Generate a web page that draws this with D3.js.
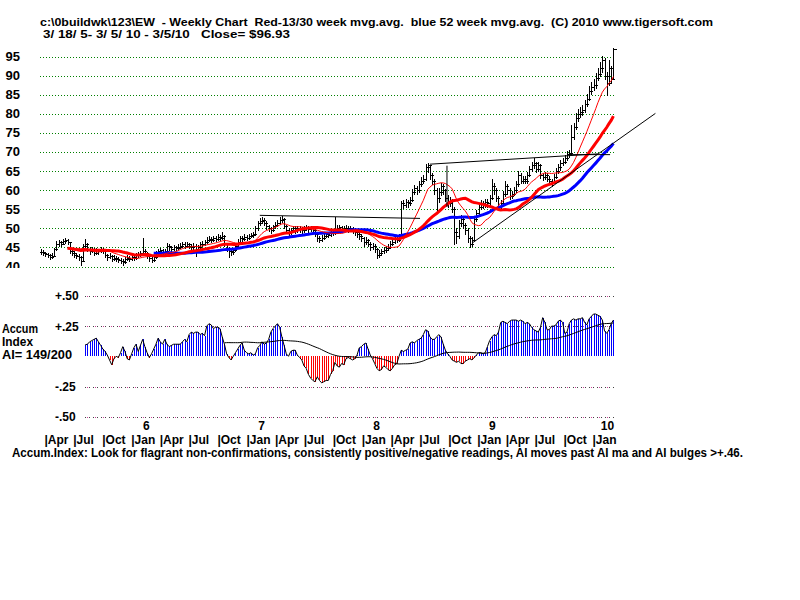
<!DOCTYPE html>
<html><head><meta charset="utf-8">
<script src="https://cdn.jsdelivr.net/npm/d3@7/dist/d3.min.js"></script>
<style>
body{margin:0;background:#fff}
text{font-family:"Liberation Sans",Arial,sans-serif;font-weight:bold;font-size:12px;white-space:pre;fill:#000}
</style>
</head><body>
<svg id="c" width="800" height="600"></svg>
<script>
// ---------------- DATA ----------------
const closes = [
43.8,43.5,43.2,43.0,42.5,42.8,44.5,46.0,46.3,46.0,
46.8,47.0,46.5,44.0,43.5,43.0,42.8,42.5,41.5,45.5,
46.0,44.5,44.0,44.5,43.5,44.2,44.0,44.5,44.0,43.0,
42.5,42.8,42.0,42.3,42.0,41.8,41.5,41.2,42.0,42.3,
42.0,42.5,42.2,43.0,43.2,43.5,44.0,43.5,42.8,42.2,
41.8,42.5,43.5,44.0,44.3,43.8,44.0,45.5,45.0,44.5,
45.0,44.8,45.2,45.5,45.8,45.5,45.8,45.5,45.2,45.5,
44.5,45.0,45.8,46.0,46.5,47.0,47.3,47.0,47.5,47.2,
47.8,47.5,48.0,46.0,44.5,44.0,43.8,44.2,45.5,46.5,
47.5,47.2,47.8,47.5,48.0,48.3,48.5,50.0,51.5,52.0,
52.3,51.5,50.5,50.0,49.5,50.5,51.0,51.5,52.3,52.5,
50.5,49.5,49.0,49.5,50.0,49.5,50.0,49.8,49.5,50.0,
50.3,49.8,50.0,49.5,48.5,47.5,47.0,47.5,48.0,48.5,
48.3,48.8,49.0,49.5,50.0,50.3,49.8,50.0,50.2,49.8,
50.0,49.5,49.0,48.5,48.0,47.5,46.5,47.0,46.0,45.0,
45.5,44.5,43.0,43.5,44.0,44.2,44.8,45.0,46.0,46.5,
47.5,47.0,48.0,56.5,56.0,56.8,56.5,57.5,59.5,60.5,
60.0,61.5,62.5,63.0,66.0,66.5,64.0,62.5,60.0,58.0,
59.5,61.0,60.0,58.0,56.5,57.5,55.0,49.0,48.0,51.5,
52.5,51.0,49.5,47.5,46.0,47.0,52.5,54.0,55.5,56.5,
56.0,57.0,56.5,58.0,61.0,60.0,58.0,55.5,56.5,59.0,
61.0,60.0,58.5,59.0,60.0,61.5,64.0,62.5,63.0,62.5,
64.0,65.5,66.5,67.0,65.5,66.5,64.0,63.5,64.0,63.0,
62.5,62.0,63.5,65.0,66.0,67.0,67.5,68.5,69.5,69.8,
74.0,76.5,79.0,80.0,80.5,81.0,82.5,84.0,86.0,87.0,
87.5,89.5,90.5,92.0,94.0,90.0,88.0,92.0,89.0,96.93];

const highs = [
44.6,44.2,43.9,43.6,43.3,43.5,44.9,46.6,46.9,46.8,
47.3,47.5,47.2,46.4,44.5,44.0,43.6,43.3,42.8,46.0,
47.2,46.2,45.0,45.2,44.8,44.8,44.7,45.1,44.9,44.2,
43.3,43.5,43.0,43.0,42.8,42.5,42.2,41.9,42.5,42.9,
42.8,43.0,42.9,43.5,43.9,44.1,47.5,44.6,43.8,43.1,
42.6,43.0,44.0,44.6,44.9,44.6,44.7,46.2,45.9,45.3,
45.6,45.5,45.8,46.1,46.4,46.3,46.4,46.2,46.0,46.1,
45.8,45.6,46.3,46.6,47.0,47.6,47.9,47.8,48.1,48.0,
48.4,48.3,49.0,48.2,46.2,45.0,44.6,44.9,46.0,47.1,
48.0,48.0,48.4,48.3,48.6,48.9,49.1,50.6,52.0,52.7,
53.0,52.6,51.8,51.0,50.4,51.0,51.7,52.2,52.9,53.3,
52.7,50.9,50.0,50.2,50.7,50.5,50.6,50.6,50.3,50.6,
51.0,50.7,50.6,50.4,49.8,48.8,48.0,48.2,48.6,49.1,
49.0,49.4,49.7,53.0,50.8,51.0,50.7,50.7,50.9,50.6,
50.6,50.4,50.0,49.4,49.0,48.4,47.8,47.7,47.3,46.4,
46.1,45.8,44.8,44.2,44.7,45.0,45.5,45.8,46.6,47.2,
48.1,48.0,48.6,57.2,57.3,57.6,57.5,58.2,60.3,61.3,
61.2,62.3,63.4,63.9,66.8,67.2,66.4,64.5,62.8,60.5,
60.5,61.8,61.6,60.4,58.6,58.3,57.8,55.5,50.2,52.3,
53.5,53.0,51.5,50.0,48.0,47.8,53.2,54.8,56.2,57.3,
57.2,57.8,57.6,58.8,63.0,61.8,60.5,58.4,57.3,59.8,
62.3,61.6,60.5,59.8,60.8,62.3,65.0,64.5,63.8,63.6,
64.8,66.3,67.3,68.3,67.4,67.3,66.8,64.6,64.8,64.5,
63.6,63.0,64.2,65.8,66.8,67.8,68.4,69.3,70.3,70.6,
77.0,77.6,80.2,81.2,81.7,82.4,83.6,85.2,87.2,88.4,
89.0,90.6,92.0,93.6,95.2,94.5,91.0,94.0,92.5,97.3];

const lows = [
43.2,43.0,42.7,42.4,42.0,42.1,42.7,44.3,45.5,45.4,
45.8,46.2,45.8,43.6,42.9,42.4,42.2,41.8,40.3,41.4,
45.0,44.0,43.4,43.7,43.0,43.2,43.4,43.7,43.5,42.5,
41.8,42.1,41.5,41.6,41.4,41.1,40.9,40.4,41.0,41.6,
41.4,41.7,41.6,42.0,42.6,42.8,43.2,42.9,42.2,41.5,
41.2,41.5,42.3,43.2,43.6,43.2,43.3,43.8,44.4,43.9,
44.2,44.2,44.5,44.8,45.0,44.9,45.0,44.8,44.6,44.7,
42.8,44.0,44.8,45.3,45.7,46.2,46.6,46.4,46.7,46.6,
47.0,46.9,47.2,45.5,44.0,42.5,43.1,43.4,44.0,45.3,
46.3,46.6,47.0,46.9,47.2,47.6,47.8,48.3,49.6,51.0,
51.5,50.9,49.8,49.2,48.8,49.2,50.1,50.7,51.2,51.7,
50.0,48.9,48.3,48.6,49.1,48.9,49.1,49.1,48.8,49.1,
49.5,49.1,49.2,48.8,47.9,46.8,46.3,46.6,47.1,47.6,
47.6,47.9,48.2,48.6,49.1,49.4,49.1,49.2,49.4,49.1,
49.2,48.8,48.3,47.8,47.3,46.7,45.5,46.0,45.4,44.4,
44.5,43.8,42.3,42.6,43.1,43.5,43.9,44.2,44.8,45.6,
46.2,46.3,46.7,47.8,55.2,55.6,55.7,56.2,57.2,59.0,
59.1,59.6,61.0,61.8,62.6,64.8,63.0,61.5,58.9,54.0,
57.0,58.8,59.0,57.2,55.5,55.8,54.2,46.0,46.2,47.5,
50.6,50.2,48.5,46.4,45.2,45.3,46.8,52.0,53.4,55.0,
55.2,55.6,55.7,56.2,57.6,59.0,57.2,54.8,55.0,56.2,
58.5,59.0,57.8,58.0,58.6,59.5,61.0,61.8,61.9,61.8,
62.0,63.6,65.0,65.9,64.8,65.0,63.2,62.7,62.9,62.3,
61.6,61.0,61.8,63.1,64.6,65.4,66.5,67.0,68.0,68.8,
69.2,73.4,76.0,78.2,79.2,79.6,80.5,82.0,83.5,85.2,
86.2,86.8,88.8,89.8,91.0,89.0,85.0,87.5,88.0,89.5];

// Accumulation Index, one value per week starting at week 20
const accumStartWeek = 20;
const accumIndex = [
.095,.10,.12,.13,.14,.15,.12,.09,.06,.04,
.01,-.03,-.07,-.02,0,-.01,.03,.08,.04,-.02,
-.03,.02,.07,.10,.04,.09,.14,.08,.03,-.01,
.02,.06,.10,.15,.12,.10,.14,.10,.08,.09,
.10,.10,.10,.10,.12,.14,.12,.18,.20,.19,
.20,.20,.18,.19,.17,.25,.27,.26,.23,.24,
.24,.23,.16,.10,.02,-.01,-.03,0,.03,.06,
.09,.11,.05,.03,.02,.03,.01,.02,.07,.09,
.12,.10,.11,.14,.20,.23,.25,.27,.24,.16,
.09,.02,0,.04,.05,.05,.01,-.01,-.03,-.08,
-.10,-.15,-.18,-.20,-.21,-.17,-.20,-.22,-.21,-.20,
-.20,-.15,-.12,-.05,-.08,-.09,-.06,-.07,-.02,-.01,
-.02,-.03,-.02,.01,.07,.08,.10,.11,.06,.01,
-.02,-.06,-.10,-.12,-.11,-.08,-.09,-.11,-.12,-.10,
-.07,-.06,0,.05,.04,.05,.06,.11,.12,.11,
.13,.14,.15,.18,.22,.21,.16,.14,.14,.16,
.18,.16,.10,.05,.02,0,-.03,-.04,-.05,-.04,
-.06,-.06,-.04,-.03,-.02,-.03,-.01,.01,.03,.03,
.02,.03,.08,.13,.16,.18,.17,.20,.28,.29,
.28,.27,.29,.30,.30,.30,.29,.30,.29,.27,
.28,.27,.24,.22,.21,.20,.24,.32,.28,.22,
.22,.25,.25,.26,.29,.30,.28,.19,.20,.27,
.30,.31,.30,.31,.31,.32,.28,.26,.31,.33,
.35,.35,.34,.33,.30,.21,.19,.22,.27,.30];

const priceTicks = [95,90,85,80,75,70,65,60,55,50,45,40];
const accumTicks = [0.5,0.25,-0.25,-0.5];
const accumTickLabels = ["+.50","+.25","-.25","-.50"];
const yearLabels = ["6","7","8","9","10"];
const yearStarts = [2006,2007,2008,2009,2010];
// trend lines as [week, price] pairs
const trendLines = [
  [[99,53.4],[171.5,52.6]],
  [[176,66.8],[252,69.5]],
  [[183.7,66.4],[183.7,55.6]],
  [[195,46.1],[278,80.1]],
  [[239.5,69.3],[257.5,69.3]]
];
const titleLine1 = "c:\\0buildwk\\123\\EW  - Weekly Chart  Red-13/30 week mvg.avg.  blue 52 week mvg.avg.  (C) 2010 www.tigersoft.com";
const titleLine2 = "3/ 18/ 5- 3/ 5/ 10 - 3/5/10   Close= $96.93";
const footer = "Accum.Index: Look for flagrant non-confirmations, consistently positive/negative readings, AI moves past AI ma and AI bulges >+.46.";

// ---------------- SCALES ----------------
const svg = d3.select("#c");
const nW = closes.length;
const startDate = new Date(2005,2,18), endDate = new Date(2010,2,5);
const xi = d3.scaleLinear().domain([0, nW-1]).range([41, 613.4]);
const xt = d3.scaleTime().domain([startDate, endDate]).range([41, 613.4]);
const yP = d3.scaleLinear().domain([40,95]).range([266.5,56.5]);
const yA = d3.scaleLinear().domain([-0.5,0.5]).range([416.7,295.9]);
const px = v => Math.round(v)+0.5;

function sma(arr, n, start){
  return arr.map((v,i)=>{
    if(i<start) return null;
    const a = Math.max(0,i-n+1);
    return d3.mean(arr.slice(a,i+1));
  });
}

// ---------------- TEXT ----------------
svg.append("text").attr("x",40).attr("y",25.5).style("font-size","11.5px")
  .attr("textLength",673).attr("lengthAdjust","spacingAndGlyphs").text(titleLine1);
svg.append("text").attr("x",43).attr("y",38).style("font-size","11.5px")
  .attr("textLength",247).attr("lengthAdjust","spacingAndGlyphs").text(titleLine2);

// ---------------- PRICE GRID ----------------
svg.append("defs").append("clipPath").attr("id","lblclip")
  .append("rect").attr("x",0).attr("y",40).attr("width",40).attr("height",228);
const gP = svg.append("g");
priceTicks.forEach(t=>{
  gP.append("line").attr("x1",40).attr("x2",615).attr("y1",px(yP(t))).attr("y2",px(yP(t)))
    .attr("stroke","#008000").attr("stroke-dasharray","1,2").attr("shape-rendering","crispEdges");
  gP.append("text").attr("x",20).attr("y",yP(t)+4.5).attr("text-anchor","end")
    .attr("clip-path","url(#lblclip)").style("font-size","13px").text(t);
});

// ---------------- PRICE BARS ----------------
const gB = svg.append("g").attr("stroke","#000").attr("stroke-width",1).attr("shape-rendering","crispEdges");
closes.forEach((c,i)=>{
  const x = px(xi(i));
  const o = i>0 ? closes[i-1] : c;
  gB.append("line").attr("x1",x).attr("x2",x).attr("y1",Math.round(yP(highs[i]))).attr("y2",Math.round(yP(lows[i]))+1);
  gB.append("line").attr("x1",x-2).attr("x2",x).attr("y1",px(yP(o))).attr("y2",px(yP(o)));
  gB.append("line").attr("x1",x).attr("x2",x+3).attr("y1",px(yP(c))).attr("y2",px(yP(c)));
});

// ---------------- MOVING AVERAGES ----------------
const ma13 = sma(closes,13,12), ma30 = sma(closes,30,12), ma52 = sma(closes,52,51);
const lineP = d3.line().defined(d=>d!=null).x((d,i)=>xi(i)).y(d=>yP(d));
svg.append("path").datum(ma52).attr("d",lineP).attr("fill","none").attr("stroke","#0000ff").attr("stroke-width",3);
svg.append("path").datum(ma30).attr("d",lineP).attr("fill","none").attr("stroke","#ff0000").attr("stroke-width",3);
svg.append("path").datum(ma13).attr("d",lineP).attr("fill","none").attr("stroke","#ff0000").attr("stroke-width",1);

// ---------------- TREND LINES ----------------
trendLines.forEach(seg=>{
  svg.append("line").attr("x1",xi(seg[0][0])).attr("y1",yP(seg[0][1]))
    .attr("x2",xi(seg[1][0])).attr("y2",yP(seg[1][1])).attr("stroke","#000").attr("stroke-width",1);
});

// ---------------- ACCUM GRID ----------------
const gA = svg.append("g");
accumTicks.forEach((t,k)=>{
  const y = px(yA(t));
  gA.append("line").attr("x1",85).attr("x2",614).attr("y1",y).attr("y2",y)
    .attr("stroke","#444").attr("stroke-dasharray","1,3").attr("shape-rendering","crispEdges");
  gA.append("line").attr("x1",87).attr("x2",614).attr("y1",y).attr("y2",y)
    .attr("stroke","#d0409a").attr("stroke-dasharray","1,7").attr("shape-rendering","crispEdges");
  gA.append("text").attr("x",55).attr("y",yA(t)+4.5).text(accumTickLabels[k]);
});
svg.append("text").attr("x",2).attr("y",333).attr("textLength",36).attr("lengthAdjust","spacingAndGlyphs").text("Accum");
svg.append("text").attr("x",2).attr("y",346).attr("textLength",31).attr("lengthAdjust","spacingAndGlyphs").text("Index");
svg.append("text").attr("x",2).attr("y",359).attr("textLength",70).attr("lengthAdjust","spacingAndGlyphs").text("AI= 149/200");

// ---------------- ACCUM HISTOGRAM ----------------
const gH = svg.append("g").attr("shape-rendering","crispEdges");
const y0 = Math.round(yA(0));
accumIndex.forEach((v,i)=>{
  const x = px(xi(i+accumStartWeek));
  gH.append("line").attr("x1",x).attr("x2",x).attr("y1",y0).attr("y2",Math.round(yA(v)))
    .attr("stroke", v>=0 ? "#0000ff" : "#ff0000").attr("stroke-width",1);
});
const lineA = d3.line().defined(d=>d!=null).x((d,i)=>xi(i+accumStartWeek)).y(d=>yA(d));
svg.append("path").datum(accumIndex).attr("d",lineA).attr("fill","none").attr("stroke","#000").attr("stroke-width",1);
const aiMa = sma(accumIndex,52,63);
svg.append("path").datum(aiMa).attr("d",lineA).attr("fill","none").attr("stroke","#000").attr("stroke-width",1);

// ---------------- X AXIS LABELS ----------------
yearStarts.forEach((yr,k)=>{
  svg.append("text").attr("x",xt(new Date(yr,0,1))+14).attr("y",430).attr("text-anchor","middle").text(yearLabels[k]);
});
const quarters = d3.timeMonth.every(3).range(new Date(2005,3,1), new Date(2010,1,1));
const fmt = d3.timeFormat("%b");
quarters.forEach(d=>{
  svg.append("text").attr("x",xt(d)-1).attr("y",444).text("|"+fmt(d));
});
svg.append("text").attr("x",12).attr("y",457).attr("textLength",731).attr("lengthAdjust","spacingAndGlyphs").text(footer);
</script>
</body></html>
